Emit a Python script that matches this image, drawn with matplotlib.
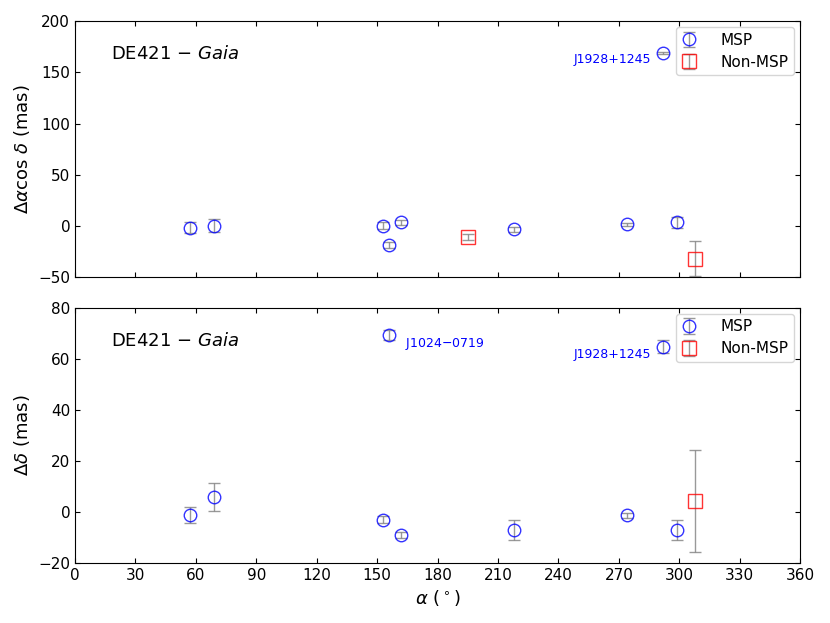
import numpy as np
import matplotlib
matplotlib.use("Agg")
import matplotlib.pyplot as plt

# MSP pulsars: right ascension (deg), offsets (mas)
msp_ra = [57, 69, 153, 156, 162, 218, 274, 292, 299]
msp_dra = [-1.5, 0.5, 0.5, -18.5, 3.5, -3.0, 1.5, 168.5, 3.5]
msp_dra_err = [5.0, 6.0, 3.0, 3.0, 2.5, 2.5, 1.5, 1.0, 5.0]
msp_ddec = [-1.2, 5.8, -3.0, 69.4, -9.0, -7.0, -1.3, 64.8, -7.0]
msp_ddec_err = [3.0, 5.5, 1.5, 2.0, 1.0, 4.0, 1.0, 2.5, 4.0]

# non-MSP pulsars
non_ra = [195, 308]
non_dra = [-11.0, -32.0]
non_dra_err = [3.0, 17.0]
non_ddec = [np.nan, 4.2]
non_ddec_err = [np.nan, 20.0]

xticks = np.arange(0, 361, 30)

fig = plt.figure(figsize=(8.3, 6.23), dpi=100)
ax1 = fig.add_axes([0.0904, 0.555, 0.8736, 0.411])
ax2 = fig.add_axes([0.0904, 0.0963, 0.8736, 0.4093])

def draw(ax, y_msp, e_msp, y_non, e_non):
    ax.errorbar(msp_ra, y_msp, yerr=e_msp, fmt="o", mfc="none", mec="blue",
                ms=9, mew=1.0, ecolor="gray", elinewidth=1.0, capsize=4,
                alpha=0.8, label="MSP")
    ax.errorbar(non_ra, y_non, yerr=e_non, fmt="s", mfc="none", mec="red",
                ms=10, mew=1.0, ecolor="gray", elinewidth=1.0, capsize=4,
                alpha=0.8, label="Non-MSP")
    ax.set_xlim(0, 360)
    ax.set_xticks(xticks)
    ax.tick_params(direction="in", top=True, right=True, labelsize=11)
    ax.text(0.05, 0.87, r"DE421 $-$ $Gaia$", transform=ax.transAxes,
            fontsize=13, va="center")
    ax.legend(loc="upper right", fontsize=11, handlelength=1.0,
              handletextpad=1.6, borderpad=0.35, labelspacing=0.45,
              borderaxespad=0.4)

draw(ax1, msp_dra, msp_dra_err, non_dra, non_dra_err)
ax1.set_ylim(-50, 200)
ax1.set_yticks([-50, 0, 50, 100, 150, 200])
ax1.set_xticklabels([])
ax1.set_ylabel(r"$\Delta\alpha\cos\,\delta$ (mas)", fontsize=13)
ax1.text(msp_ra[7] - 6, msp_dra[7] - 6, "J1928+1245", color="blue",
         fontsize=9, ha="right", va="center")

draw(ax2, msp_ddec, msp_ddec_err, non_ddec, non_ddec_err)
ax2.set_ylim(-20, 80)
ax2.set_yticks([-20, 0, 20, 40, 60, 80])
ax2.set_ylabel(r"$\Delta\delta$ (mas)", fontsize=13)
ax2.set_xlabel(r"$\alpha$ ($^\circ$)", fontsize=13)
ax2.text(msp_ra[7] - 6, msp_ddec[7] - 3, "J1928+1245", color="blue",
         fontsize=9, ha="right", va="center")
ax2.text(msp_ra[3] + 8, msp_ddec[3] - 3.5, "J1024$-$0719", color="blue",
         fontsize=9, ha="left", va="center")

ax1.yaxis.set_label_coords(-0.06, 0.5)
ax2.yaxis.set_label_coords(-0.06, 0.5)

fig.savefig("out.png", dpi=100)
